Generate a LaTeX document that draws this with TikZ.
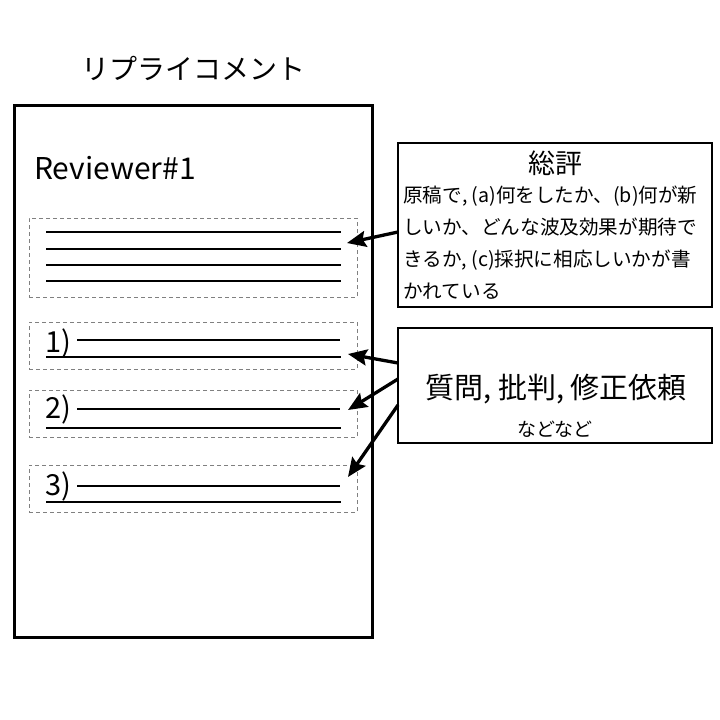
\documentclass[tikz,border=0pt]{standalone}
\usepackage{fontspec}
\setmainfont{Noto Sans CJK JP}
\usetikzlibrary{arrows.meta}
\begin{document}
\begin{tikzpicture}[x=1pt,y=-1pt,
  frame/.style={draw, line width=3pt, inner sep=0pt, outer sep=0pt, anchor=north west},
  dbox/.style={draw=gray, line width=1pt, dash pattern=on 4pt off 3pt, inner sep=0pt, outer sep=0pt, minimum width=328pt, anchor=north west},
  rule/.style={line width=2.3pt},
  lbl/.style={anchor=west, inner sep=0pt, font=\fontsize{29}{32}\selectfont},
  arr/.style={line width=3.3pt, -{Stealth[length=19pt,width=16pt,inset=3pt]}},
]
\useasboundingbox (0,0) rectangle (720,720);
% main sheet
\node[frame, minimum width=358pt, minimum height=532pt] (main) at (14,105) {};
\node[font=\fontsize{28}{30}\selectfont] (title) at (193,68) {リプライコメント};
\node[anchor=west, inner sep=0pt, font=\fontsize{30}{32}\selectfont] (rev) at (34,168) {Reviewer\#1};
% dashed blocks
\node[dbox, minimum height=79pt] (d0) at (29,218) {};
\node[dbox, minimum height=47pt] (d1) at (29,322) {};
\node[dbox, minimum height=47pt] (d2) at (29,390) {};
\node[dbox, minimum height=47pt] (d3) at (29,465) {};
% lines in block 0
\draw[rule] (46,232) -- (341,232);
\draw[rule] (46,249) -- (341,249);
\draw[rule] (46,265) -- (341,265);
\draw[rule] (46,281) -- (341,281);
% block 1
\node[lbl] (n1) at (45,343) {1)};
\draw[rule] (77,340) -- (340,340);
\draw[rule] (46,357) -- (341,357);
% block 2
\node[lbl] (n2) at (45,409) {2)};
\draw[rule] (77,409) -- (340,409);
\draw[rule] (46,428) -- (341,428);
% block 3
\node[lbl] (n3) at (45,486) {3)};
\draw[rule] (77,486) -- (340,486);
\draw[rule] (46,502) -- (341,502);
% box A
\node[frame, line width=2.6pt, minimum width=314pt, minimum height=164pt] (A) at (398,143) {};
\node[font=\fontsize{27}{30}\selectfont] (Ah) at (555,163) {総評};
\node[anchor=north west, align=left, inner sep=0pt, font=\fontsize{19.6}{32}\selectfont] (At) at (403,186)
  {原稿で, (a)何をしたか、(b)何が新\\しいか、どんな波及効果が期待で\\きるか, (c)採択に相応しいかが書\\かれている};
% box B
\node[frame, line width=2.6pt, minimum width=314pt, minimum height=115pt] (B) at (398,328) {};
\node[font=\fontsize{29}{32}\selectfont] (Bh) at (556,389) {質問, 批判, 修正依頼};
\node[font=\fontsize{19}{24}\selectfont] (Bt) at (555,429) {などなど};
% arrow ends
\coordinate (t0) at (347,243);
\coordinate (t1) at (348,354);
\coordinate (t2) at (348,410);
\coordinate (t3) at (348,477);
\draw[arr] ([yshift=-89pt]A.north west) -- (t0);
\draw[arr] ([yshift=-35pt]B.north west) -- (t1);
\draw[arr] ([yshift=-51pt]B.north west) -- (t2);
\draw[arr] ([yshift=-77pt]B.north west) -- (t3);
\end{tikzpicture}
\end{document}
